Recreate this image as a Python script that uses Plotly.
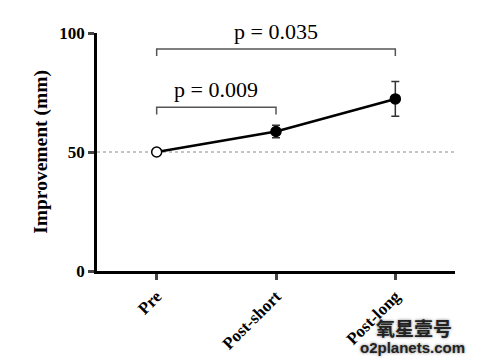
import plotly.graph_objects as go

categories = ["Pre", "Post-short", "Post-long"]
means = [50.0, 58.6, 72.3]
errors = [0.0, 2.6, 7.3]
y_ticks = [0, 50, 100]
comparisons = [  # (start index, end index, bracket height, label)
    (0, 1, 68.8, "p = 0.009"),
    (0, 2, 93.3, "p = 0.035"),
]
x_pos = list(range(len(categories)))

serif = "Liberation Serif, Times New Roman, serif"
fig = go.Figure()

# line
fig.add_trace(go.Scatter(x=x_pos, y=means, mode="lines",
                         line=dict(color="black", width=2.5),
                         showlegend=False, hoverinfo="skip"))
# error bars + markers
fig.add_trace(go.Scatter(
    x=x_pos, y=means, mode="markers",
    marker=dict(size=10, color=["white", "black", "black"],
                line=dict(color="black", width=1.5)),
    error_y=dict(type="data", array=errors, visible=True,
                 color="#333333", thickness=1.5, width=4),
    showlegend=False))

# reference dotted line at 50
fig.add_shape(type="line", xref="paper", yref="y", x0=0, x1=1, y0=50, y1=50,
              line=dict(color="#888888", width=1, dash="dot"), layer="below")

# significance brackets
for a, b, h, label in comparisons:
    leg = 3.0
    fig.add_shape(type="path", xref="x", yref="y",
                  path=f"M {x_pos[a]},{h-leg} L {x_pos[a]},{h} L {x_pos[b]},{h} L {x_pos[b]},{h-leg}",
                  line=dict(color="#555555", width=1.5))
    fig.add_annotation(x=(x_pos[a] + x_pos[b]) / 2, y=h + 1.2, text=label,
                       showarrow=False, yanchor="bottom",
                       font=dict(family=serif, size=22, color="black"))

# watermark
fig.add_annotation(xref="paper", yref="paper", x=0.885, y=-0.238,
                   xanchor="center", yanchor="middle",
                   text="<b>氧星壹号</b>", showarrow=False,
                   font=dict(family="Noto Sans CJK SC", size=19, color="#222222",
                             shadow="0px 0px 3px #777777"))
fig.add_annotation(xref="paper", yref="paper", x=0.88, y=-0.322,
                   xanchor="center", yanchor="middle",
                   text="<b>o2planets.com</b>", showarrow=False,
                   font=dict(family="Liberation Sans, Arial", size=15, color="#222222",
                             shadow="0px 0px 3px #777777"))

fig.update_layout(
    width=491, height=364,
    margin=dict(l=97, r=36, t=33, b=93),
    plot_bgcolor="white", paper_bgcolor="white",
    font=dict(family=serif, color="black"),
    xaxis=dict(range=[-0.5, 2.5], tickmode="array", tickvals=x_pos,
               ticktext=[f"<b>{c}</b>" for c in categories],
               tickangle=-45, ticks="outside", ticklen=6, tickwidth=2.5,
               showline=True, linecolor="black", linewidth=2.5,
               showgrid=False, zeroline=False,
               tickfont=dict(family=serif, size=17, color="black")),
    yaxis=dict(range=[0, 100], tickmode="array", tickvals=y_ticks,
               ticktext=[f"<b>{t}</b>" for t in y_ticks],
               ticks="outside", ticklen=6, tickwidth=2.5,
               showline=True, linecolor="black", linewidth=2.5,
               showgrid=False, zeroline=False,
               tickfont=dict(family=serif, size=17, color="black"),
               title=dict(text="<b>Improvement (mm)</b>", standoff=7,
                          font=dict(family=serif, size=19.5, color="black"))),
)

fig.write_html("out.html")
